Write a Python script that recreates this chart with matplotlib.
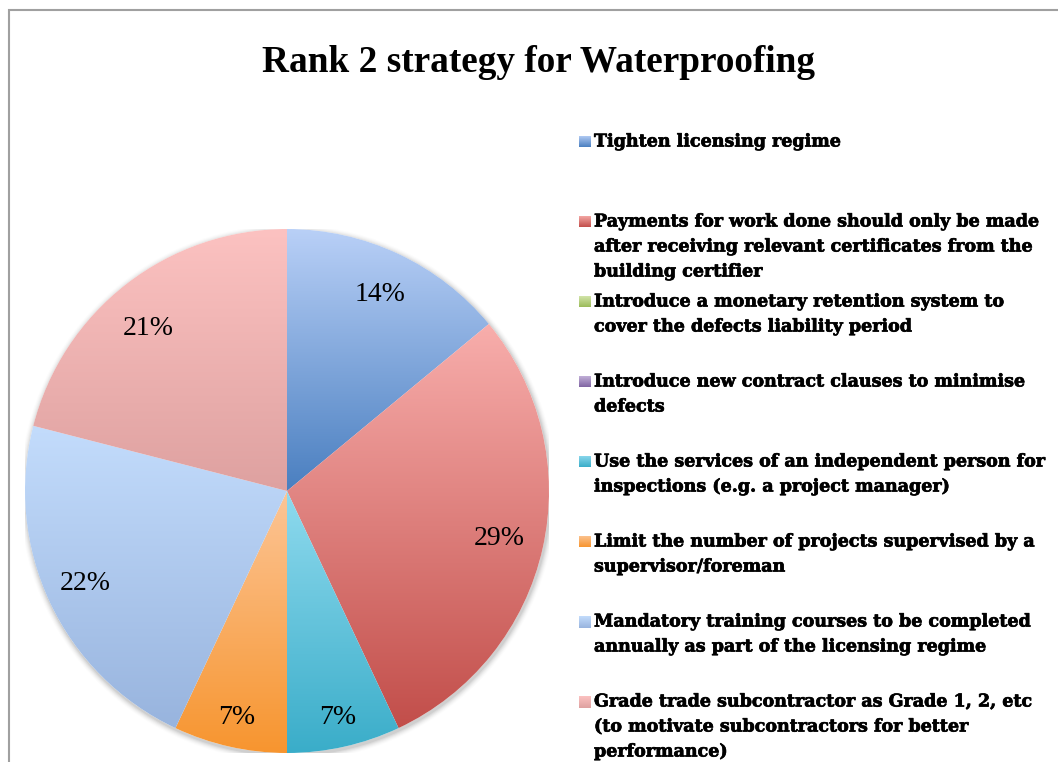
import numpy as np
import matplotlib
matplotlib.use("Agg")
import matplotlib.pyplot as plt
import matplotlib.patheffects as pe
from matplotlib.colors import LinearSegmentedColormap
from matplotlib.patches import Rectangle

title = "Rank 2 strategy for Waterproofing"

strategies = [
    "Tighten licensing regime",
    "Payments for work done should only be made\nafter receiving relevant certificates from the\nbuilding certifier",
    "Introduce a monetary retention system to\ncover the defects liability period",
    "Introduce new contract clauses to minimise\ndefects",
    "Use the services of an independent person for\ninspections (e.g. a project manager)",
    "Limit the number of projects supervised by a\nsupervisor/foreman",
    "Mandatory training courses to be completed\nannually as part of the licensing regime",
    "Grade trade subcontractor as Grade 1, 2, etc\n(to motivate subcontractors for better\nperformance)",
]
shares = [14, 29, 0, 0, 7, 7, 22, 21]

# gradient end colours per slice: (top / light, bottom / dark)
light_colors = ["#b9d0f7", "#f8aeac", "#d7e8b0", "#c7b6dd", "#8fdaee", "#fcc596", "#c3dcfc", "#fcc2c1"]
dark_colors = ["#4a7fc0", "#c24e4a", "#9bbb59", "#8064a2", "#3aadc9", "#f7952f", "#98b4de", "#dea1a0"]

W, H = 1058, 762
fig = plt.figure(figsize=(W / 100, H / 100), dpi=100)
fig.patch.set_facecolor("white")

# chart-area border
fig.add_artist(Rectangle((9 / W, -0.05), 1.2, (H - 9.5) / H + 0.05,
                         transform=fig.transFigure, fill=False,
                         edgecolor="#a0a0a0", linewidth=1.5))

fig.text(538 / W, 1 - 62 / H, title, ha="center", va="center",
         fontsize=26.8, fontweight="bold", family="Liberation Serif")

# pie axes
cx, cy, R = 287, 491, 262
ax = fig.add_axes([(cx - R) / W, (H - cy - R) / H, 2 * R / W, 2 * R / H])
ax.set_xlim(-1, 1)
ax.set_ylim(-1, 1)
ax.set_aspect("equal")
ax.axis("off")

# soft drop shadow
for k, a in enumerate(np.linspace(0.05, 0.012, 6)):
    sh = plt.Circle((0.004, -0.008), 1.0 + 0.004 * (k + 1), color="#000000",
                    alpha=a, lw=0, zorder=0)
    ax.add_patch(sh)
ax.add_patch(plt.Circle((0, 0), 1.0, color="white", lw=0, zorder=0.5))

wedges, _ = ax.pie(shares, startangle=90, counterclock=False, radius=1.0,
                   wedgeprops=dict(linewidth=0, facecolor="none"))

grad = np.linspace(0, 1, 256).reshape(-1, 1)
for w, v, c0, c1 in zip(wedges, shares, light_colors, dark_colors):
    if v <= 0:
        continue
    # wedge extent in data coordinates
    th1, th2 = np.deg2rad(w.theta1), np.deg2rad(w.theta2)
    ts = np.linspace(th1, th2, 200)
    xs = np.concatenate([[0], np.cos(ts)])
    ys = np.concatenate([[0], np.sin(ts)])
    cmap = LinearSegmentedColormap.from_list("g", [c1, c0])
    im = ax.imshow(grad, cmap=cmap, origin="lower", aspect="auto",
                   extent=[xs.min(), xs.max(), ys.min(), ys.max()], zorder=1,
                   interpolation="bilinear")
    im.set_clip_path(w)

# percentage labels (best-fit style: small slices pushed toward the rim)
label_shift = {6: (-0.02, 0.0), 7: (-0.02, -0.035)}
for i, (w, v) in enumerate(zip(wedges, shares)):
    if v <= 0:
        continue
    mid = np.deg2rad((w.theta1 + w.theta2) / 2)
    r = 0.885 if v < 10 else 0.83
    dx, dy = label_shift.get(i, (0.0, 0.0))
    ax.text(r * np.cos(mid) + dx, r * np.sin(mid) + dy, f"{v}%", ha="center",
            va="center", fontsize=20, family="Liberation Serif", zorder=3)

ax.set_xlim(-1, 1)
ax.set_ylim(-1, 1)

# legend
heavy = [pe.withStroke(linewidth=0.5, foreground="black")]
y0, step, line_h = 142, 80, 25
for i, (label, c0, c1) in enumerate(zip(strategies, light_colors, dark_colors)):
    yc = y0 + step * i
    cax = fig.add_axes([578.5 / W, 1 - (yc + 5.5) / H, 11.5 / W, 11.5 / H])
    cax.imshow(grad, cmap=LinearSegmentedColormap.from_list("g", [c1, c0]),
               origin="lower", aspect="auto", extent=[0, 1, 0, 1])
    cax.axis("off")
    for j, line in enumerate(label.split("\n")):
        fig.text(594 / W, 1 - (yc + j * line_h) / H, line, ha="left", va="center",
                 fontsize=12.6, fontweight="bold", family="DejaVu Serif",
                 path_effects=heavy)

fig.savefig("out.png", dpi=100, facecolor="white")
